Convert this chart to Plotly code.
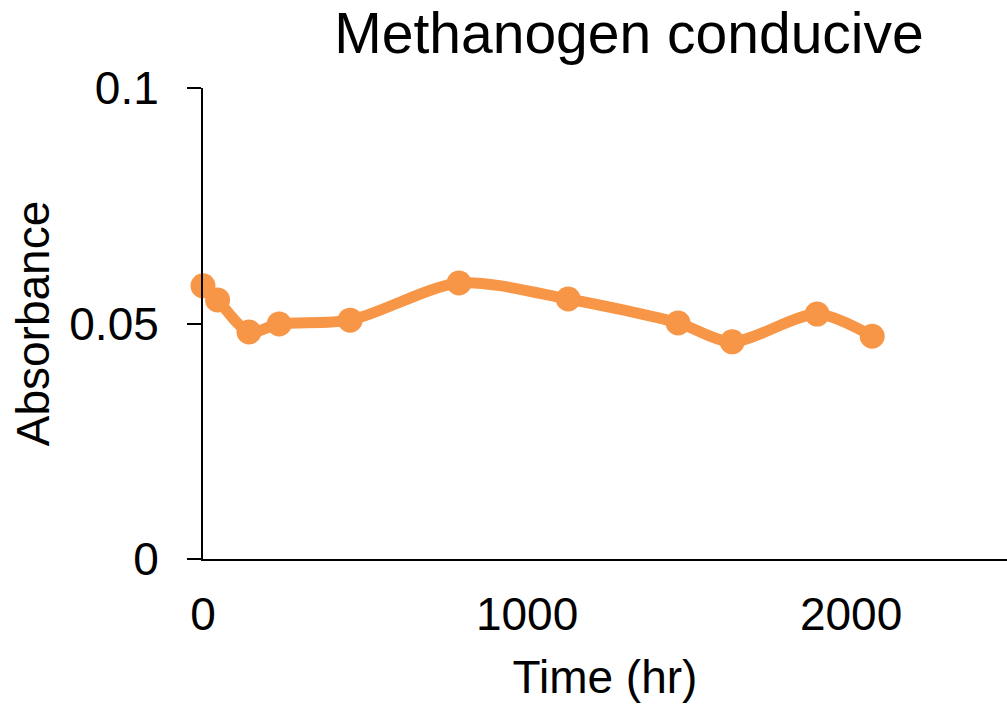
import plotly.graph_objects as go

time_hr = [0, 45, 142, 235, 454, 790, 1127, 1466, 1633, 1895, 2065]
absorbance = [0.0580, 0.0550, 0.0482, 0.0499, 0.0507, 0.0586, 0.0552, 0.0501, 0.0461, 0.0520, 0.0473]
y_tick_vals = [0, 0.05, 0.1]
y_tick_text = ["0", "0.05", "0.1"]
x_tick_vals = [0, 1000, 2000]
x_tick_text = ["0", "1000", "2000"]

ORANGE = "#F79646"
FONT = "Liberation Sans, Arial, sans-serif"

fig = go.Figure()
fig.add_trace(go.Scatter(
    x=time_hr, y=absorbance, mode="lines+markers",
    line=dict(color=ORANGE, width=11, shape="spline", smoothing=0.8),
    marker=dict(color=ORANGE, size=25),
    cliponaxis=False,
    showlegend=False, hoverinfo="skip",
))

fig.update_layout(
    width=1007, height=708,
    margin=dict(l=203, r=0, t=88, b=149, autoexpand=False),
    paper_bgcolor="white", plot_bgcolor="white",
    font=dict(family=FONT, color="black"),
    title=dict(text="Methanogen conducive", font=dict(size=57, family=FONT, color="black"),
               x=629 / 1007, xanchor="center", xref="container",
               y=1 - 33 / 708, yanchor="middle", yref="container"),
    xaxis=dict(
        range=[0, 2481], tickvals=x_tick_vals, ticktext=x_tick_text,
        showgrid=False, zeroline=False, showline=True, linecolor="black", linewidth=2,
        ticks="outside", ticklen=14, tickcolor="rgba(0,0,0,0)",
        tickfont=dict(size=46, family=FONT, color="black"),
        title=dict(text="Time (hr)", font=dict(size=46, family=FONT, color="black"), standoff=22),
        automargin=False,
    ),
    yaxis=dict(
        range=[0, 0.1], tickvals=y_tick_vals, ticktext=y_tick_text,
        showgrid=False, zeroline=False, showline=True, linecolor="black", linewidth=2,
        ticks="outside", ticklen=14, tickwidth=2, tickcolor="black",
        ticklabelstandoff=19,
        tickfont=dict(size=46, family=FONT, color="black"),
        title=dict(text="Absorbance", font=dict(size=46, family=FONT, color="black"), standoff=5),
        automargin=False,
    ),
)

fig.write_html("out.html")
